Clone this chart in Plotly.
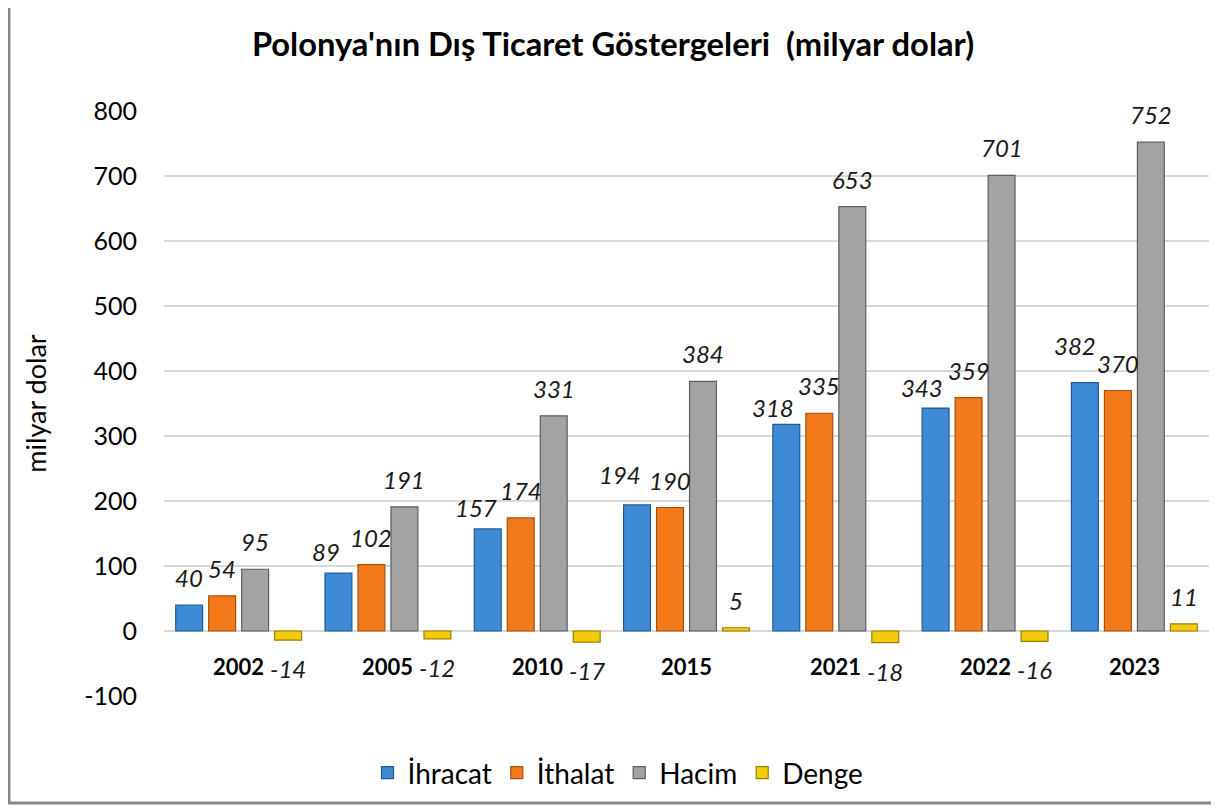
import plotly.graph_objects as go

years = ["2002", "2005", "2010", "2015", "2021", "2022", "2023"]
ihracat = [40, 89, 157, 194, 318, 343, 382]
ithalat = [54, 102, 174, 190, 335, 359, 370]
hacim = [95, 191, 331, 384, 653, 701, 752]
denge = [-14, -12, -17, 5, -18, -16, 11]
series_names = ["İhracat", "İthalat", "Hacim", "Denge"]
y_ticks = [-100, 0, 100, 200, 300, 400, 500, 600, 700, 800]
y_ticktext = [str(v) for v in y_ticks]

series = [ihracat, ithalat, hacim, denge]
fill_colors = ["#3f8ad4", "#f27a1a", "#a3a3a3", "#f2cc0c"]
line_colors = ["#1f5a94", "#a5500d", "#5e5e5e", "#9c7f00"]

# manual nudges (pixels) of the data labels, as placed in the original chart
label_dx = [[0, -12, -12, -17, -13, -14, -10], [0] * 7, [0] * 7, [0] * 7]
label_dy = [[0, -6, -6, 3, -11, -7, 10], [0] * 7, [0] * 7, [0] * 7]

FONT = "Lato"
# page body has an 8px margin: reference pixel p -> figure pixel p - OFF
OFF = 8
W, H = 1219 - OFF, 809 - OFF
PL, PR, PT, PB = 164, 1209, 111, 696   # plot area in reference pixels
ML, MR, MT, MB = PL - OFF, W - (PR - OFF), PT - OFF, H - (PB - OFF)
BARGAP, BARGROUPGAP = 0.116, 0.185
slot = (1 - BARGAP) / len(series)

pw = PR - PL
ph = PB - PT
def px_x(p):
    return (p - PL) / pw
def px_y(p):
    return (PB - p) / ph

xs = list(range(len(years)))
fig = go.Figure()
for k, (name, vals) in enumerate(zip(series_names, series)):
    fig.add_trace(go.Bar(
        x=xs, y=vals, name=name,
        marker=dict(color=fill_colors[k], line=dict(color=line_colors[k], width=1.2)),
        cliponaxis=False,
    ))
    for i, v in enumerate(vals):
        fig.add_annotation(
            x=i + (k - 1.5) * slot, y=v, xref="x", yref="y",
            text=str(v), showarrow=False,
            font=dict(family=FONT, size=24, color="#1a1a1a", style="italic"),
            yanchor="bottom" if v >= 0 else "top",
            yshift=(11 if v >= 0 else -12) + label_dy[k][i],
            xshift=label_dx[k][i],
        )

# category labels below the zero line
for i, yr in enumerate(years):
    fig.add_annotation(
        x=i, y=0, xref="x", yref="y", text="<b>%s</b>" % yr, showarrow=False,
        font=dict(family=FONT, size=22, color="#000000"),
        yanchor="middle", yshift=-35,
    )

fig.add_shape(type="rect", xref="paper", yref="paper",
              x0=px_x(9), x1=px_x(1215), y0=px_y(803), y1=px_y(-10),
              line=dict(color="#878787", width=3), layer="above")

fig.update_layout(
    width=W, height=H,
    margin=dict(l=ML, r=MR, t=MT, b=MB, autoexpand=False),
    paper_bgcolor="white", plot_bgcolor="white",
    barmode="group", bargap=BARGAP, bargroupgap=BARGROUPGAP,
    font=dict(family=FONT, color="#000000"),
    title=dict(text="<b>Polonya'nın Dış Ticaret Göstergeleri  (milyar dolar)</b>",
               x=px_x(613), xanchor="center", y=1 - (45 - OFF) / H, yanchor="middle",
               xref="paper",
               font=dict(family=FONT, size=32.7, color="#000000")),
    xaxis=dict(range=[-0.5, len(years) - 0.5], showticklabels=False,
               showgrid=False, zeroline=False, showline=False, ticks=""),
    yaxis=dict(range=[-100, 800], tickvals=y_ticks, ticktext=y_ticktext,
               tickfont=dict(family=FONT, size=25, color="#000000"),
               showgrid=True, gridcolor="#d9d9d9", gridwidth=1.5,
               zeroline=False, showline=False, ticks="",
               ticklabelstandoff=26,
               title=dict(text="milyar dolar", standoff=29,
                          font=dict(family=FONT, size=27, color="#000000"))),
    legend=dict(orientation="h", x=px_x(618), xanchor="center",
                y=px_y(773), yanchor="middle",
                font=dict(family=FONT, size=28, color="#000000"),
                itemwidth=30, traceorder="normal"),
    showlegend=True,
)

fig.write_html("out.html")
